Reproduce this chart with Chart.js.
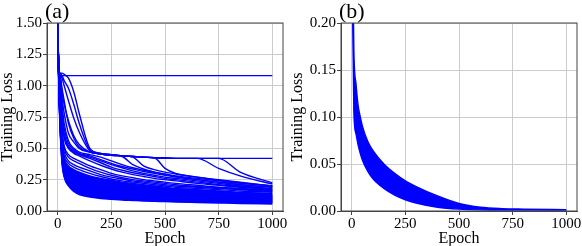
<!DOCTYPE html>
<html>
<head>
<meta charset="utf-8">
<script src="https://cdn.jsdelivr.net/npm/chart.js@4/dist/chart.umd.min.js"></script>
<style>
  body { margin: 0; background: #fff; }
  .panel { position: absolute; top: 0; }
</style>
</head>
<body>
<div class="panel" style="left:0"><canvas id="chartA" width="290" height="246"></canvas></div>
<div class="panel" style="left:290px"><canvas id="chartB" width="292" height="246"></canvas></div>
<script>
// epochs
const epochTicks = [0, 250, 500, 750, 1000];
const epochsA = [0, 5, 10, 20, 30, 50, 75, 100, 150, 200, 250, 300, 350, 400, 450, 500, 550, 650, 750, 850, 1000];

// (a) stuck runs and runs leaving the 0.42 plateau
const stuckA = [
    [1.60, 1.12, 1.09, 1.08, 1.08, 1.08, 1.08, 1.08, 1.08, 1.08, 1.08, 1.08, 1.08, 1.08, 1.08, 1.08, 1.08, 1.08, 1.08, 1.08, 1.08],
    [1.55, 1.13, 1.10, 1.10, 1.09, 1.06, 0.95, 0.78, 0.50, 0.46, 0.45, 0.44, 0.435, 0.43, 0.425, 0.42, 0.42, 0.42, 0.42, 0.42, 0.42],
    [1.50, 1.12, 1.10, 1.06, 1.00, 0.88, 0.74, 0.63, 0.48, 0.455, 0.445, 0.435, 0.37, 0.335, 0.31, 0.29, 0.275, 0.25, 0.23, 0.21, 0.19],
    [1.50, 1.12, 1.10, 1.08, 1.04, 0.98, 0.85, 0.70, 0.49, 0.46, 0.45, 0.44, 0.43, 0.36, 0.33, 0.31, 0.295, 0.27, 0.245, 0.225, 0.20],
    [1.50, 1.11, 1.08, 0.95, 0.85, 0.72, 0.60, 0.53, 0.47, 0.455, 0.445, 0.44, 0.435, 0.43, 0.425, 0.34, 0.30, 0.27, 0.25, 0.23, 0.20],
    [1.50, 1.11, 1.07, 0.90, 0.78, 0.62, 0.55, 0.50, 0.47, 0.455, 0.445, 0.44, 0.435, 0.43, 0.425, 0.425, 0.42, 0.42, 0.34, 0.28, 0.215],
    [1.50, 1.12, 1.09, 0.98, 0.88, 0.70, 0.58, 0.51, 0.47, 0.455, 0.445, 0.44, 0.435, 0.43, 0.425, 0.42, 0.42, 0.42, 0.42, 0.31, 0.225]
];

// (a) runs that fall fast, top to bottom
const fastA = [
    [1.50, 1.11, 1.05, 0.85, 0.70, 0.56, 0.50, 0.47, 0.45, 0.43, 0.40, 0.37, 0.345, 0.325, 0.31, 0.295, 0.28, 0.26, 0.24, 0.22, 0.20],
    [1.50, 1.11, 1.04, 0.80, 0.66, 0.54, 0.49, 0.46, 0.44, 0.41, 0.38, 0.355, 0.335, 0.315, 0.30, 0.285, 0.27, 0.25, 0.23, 0.21, 0.19],
    [1.50, 1.10, 1.02, 0.75, 0.62, 0.52, 0.48, 0.455, 0.43, 0.40, 0.37, 0.345, 0.32, 0.30, 0.285, 0.27, 0.26, 0.24, 0.22, 0.20, 0.18],
    [1.50, 1.10, 1.00, 0.72, 0.60, 0.51, 0.47, 0.45, 0.42, 0.385, 0.35, 0.325, 0.305, 0.29, 0.275, 0.26, 0.25, 0.23, 0.21, 0.195, 0.175],
    [1.50, 1.10, 0.98, 0.70, 0.58, 0.50, 0.46, 0.44, 0.40, 0.365, 0.335, 0.31, 0.29, 0.275, 0.26, 0.25, 0.24, 0.22, 0.205, 0.19, 0.17],
    [1.50, 1.09, 0.95, 0.65, 0.52, 0.45, 0.42, 0.40, 0.36, 0.33, 0.30, 0.28, 0.265, 0.25, 0.24, 0.23, 0.22, 0.205, 0.19, 0.18, 0.165],
    [1.50, 1.09, 0.93, 0.62, 0.50, 0.43, 0.40, 0.38, 0.34, 0.31, 0.285, 0.265, 0.25, 0.24, 0.23, 0.22, 0.21, 0.195, 0.185, 0.175, 0.16],
    [1.50, 1.08, 0.90, 0.58, 0.47, 0.40, 0.37, 0.35, 0.32, 0.29, 0.27, 0.255, 0.24, 0.23, 0.22, 0.21, 0.20, 0.19, 0.18, 0.17, 0.155],
    [1.50, 1.08, 0.88, 0.55, 0.44, 0.38, 0.35, 0.33, 0.30, 0.275, 0.255, 0.24, 0.23, 0.22, 0.21, 0.20, 0.19, 0.18, 0.17, 0.16, 0.15],
    [1.50, 1.08, 0.86, 0.52, 0.42, 0.36, 0.33, 0.31, 0.28, 0.26, 0.245, 0.23, 0.22, 0.21, 0.20, 0.19, 0.18, 0.17, 0.16, 0.15, 0.14],
    [1.50, 1.07, 0.84, 0.50, 0.40, 0.34, 0.31, 0.29, 0.265, 0.245, 0.23, 0.215, 0.205, 0.195, 0.185, 0.18, 0.175, 0.165, 0.155, 0.145, 0.135],
    [1.50, 1.07, 0.82, 0.48, 0.38, 0.32, 0.295, 0.275, 0.25, 0.23, 0.215, 0.205, 0.195, 0.185, 0.178, 0.17, 0.165, 0.155, 0.148, 0.14, 0.13],
    [1.50, 1.07, 0.80, 0.46, 0.36, 0.31, 0.28, 0.26, 0.235, 0.215, 0.20, 0.19, 0.18, 0.172, 0.165, 0.158, 0.152, 0.145, 0.138, 0.132, 0.125],
    [1.50, 1.06, 0.85, 0.55, 0.42, 0.30, 0.26, 0.24, 0.215, 0.20, 0.19, 0.18, 0.17, 0.163, 0.156, 0.15, 0.145, 0.138, 0.132, 0.126, 0.12],
    [1.50, 1.06, 0.84, 0.53, 0.41, 0.295, 0.255, 0.233, 0.208, 0.194, 0.184, 0.175, 0.166, 0.159, 0.152, 0.146, 0.141, 0.134, 0.128, 0.122, 0.116],
    [1.50, 1.05, 0.83, 0.52, 0.40, 0.288, 0.248, 0.226, 0.202, 0.188, 0.178, 0.169, 0.161, 0.154, 0.148, 0.142, 0.137, 0.130, 0.124, 0.118, 0.112],
    [1.50, 1.05, 0.82, 0.51, 0.39, 0.281, 0.241, 0.219, 0.196, 0.182, 0.172, 0.163, 0.156, 0.149, 0.143, 0.138, 0.133, 0.126, 0.120, 0.114, 0.108],
    [1.50, 1.05, 0.81, 0.50, 0.38, 0.274, 0.234, 0.212, 0.190, 0.176, 0.166, 0.158, 0.151, 0.144, 0.139, 0.134, 0.129, 0.122, 0.116, 0.110, 0.104],
    [1.50, 1.04, 0.80, 0.49, 0.37, 0.267, 0.226, 0.205, 0.183, 0.170, 0.160, 0.152, 0.145, 0.139, 0.134, 0.129, 0.124, 0.118, 0.112, 0.106, 0.100],
    [1.50, 1.04, 0.79, 0.48, 0.36, 0.260, 0.219, 0.198, 0.177, 0.164, 0.154, 0.146, 0.140, 0.134, 0.129, 0.124, 0.120, 0.114, 0.108, 0.102, 0.096],
    [1.50, 1.04, 0.78, 0.47, 0.35, 0.253, 0.212, 0.191, 0.170, 0.158, 0.148, 0.141, 0.135, 0.129, 0.124, 0.120, 0.116, 0.110, 0.104, 0.098, 0.092],
    [1.50, 1.03, 0.77, 0.46, 0.34, 0.246, 0.205, 0.184, 0.164, 0.152, 0.143, 0.136, 0.130, 0.124, 0.119, 0.115, 0.111, 0.105, 0.100, 0.094, 0.088],
    [1.50, 1.03, 0.76, 0.45, 0.33, 0.239, 0.198, 0.176, 0.157, 0.146, 0.137, 0.130, 0.124, 0.119, 0.114, 0.110, 0.107, 0.101, 0.096, 0.090, 0.084],
    [1.50, 1.03, 0.75, 0.44, 0.32, 0.232, 0.191, 0.168, 0.150, 0.139, 0.131, 0.124, 0.119, 0.114, 0.110, 0.106, 0.102, 0.097, 0.092, 0.086, 0.080],
    [1.50, 1.02, 0.74, 0.43, 0.31, 0.225, 0.184, 0.160, 0.143, 0.133, 0.125, 0.118, 0.113, 0.109, 0.105, 0.101, 0.098, 0.093, 0.088, 0.082, 0.076],
    [1.50, 1.02, 0.73, 0.42, 0.30, 0.218, 0.176, 0.152, 0.136, 0.126, 0.118, 0.112, 0.107, 0.103, 0.099, 0.096, 0.093, 0.088, 0.083, 0.078, 0.072],
    [1.50, 1.01, 0.72, 0.41, 0.29, 0.212, 0.169, 0.145, 0.128, 0.118, 0.111, 0.105, 0.101, 0.097, 0.093, 0.091, 0.088, 0.083, 0.079, 0.074, 0.068],
    [1.50, 1.01, 0.71, 0.39, 0.28, 0.206, 0.162, 0.137, 0.120, 0.109, 0.102, 0.096, 0.092, 0.088, 0.085, 0.083, 0.080, 0.076, 0.071, 0.067, 0.062],
    [1.50, 1.00, 0.70, 0.38, 0.27, 0.200, 0.155, 0.130, 0.112, 0.100, 0.094, 0.088, 0.084, 0.080, 0.077, 0.075, 0.072, 0.068, 0.064, 0.060, 0.056]
];
// the packed runs below this one read as solid blue
const denseTopA = 9;

// (b) edges of the band of runs
const epochsB = [0, 10, 20, 30, 40, 50, 75, 100, 150, 200, 250, 300, 400, 500, 600, 700, 800, 1000];
const lossBUpper = [0.35, 0.17, 0.135, 0.112, 0.10, 0.09, 0.074, 0.064, 0.05, 0.04, 0.032, 0.026, 0.016, 0.008, 0.004, 0.0025, 0.002, 0.0015];
const lossBLower = [0.30, 0.105, 0.082, 0.07, 0.061, 0.054, 0.042, 0.034, 0.024, 0.017, 0.012, 0.0085, 0.004, 0.002, 0.0012, 0.001, 0.001, 0.001];

const blue = '#0000ff';
Chart.defaults.font.family = "'Liberation Serif', 'DejaVu Serif', serif";
Chart.defaults.color = '#000';

// frame round the plot and the (a)/(b) tag
const framePlugin = {
    id: 'frame',
    afterDraw(chart, args, opts) {
        const { ctx, chartArea: a } = chart;
        ctx.save();
        ctx.strokeStyle = '#444';
        ctx.lineWidth = 1;
        ctx.strokeRect(a.left, a.top, a.right - a.left, a.bottom - a.top);
        ctx.fillStyle = '#000';
        ctx.font = "22px 'Liberation Serif'";
        ctx.textBaseline = 'alphabetic';
        ctx.fillText(opts.label, a.left - 2, a.top - 5.5);
        ctx.restore();
    }
};

function lineSet(epochs, row) {
    return {
        data: row.map((v, i) => ({ x: epochs[i], y: v })),
        borderColor: blue,
        borderWidth: 1.4,
        pointRadius: 0,
        cubicInterpolationMode: 'monotone',
        fill: false
    };
}

function makeOptions(yMax, yStep, yWidth, rightPad, label) {
    return {
        responsive: false,
        animation: false,
        layout: { padding: { top: 23, right: rightPad, left: 0, bottom: 0 } },
        plugins: { legend: { display: false }, tooltip: { enabled: false }, frame: { label: label } },
        scales: {
            x: {
                type: 'linear',
                min: -50,
                max: 1050,
                afterBuildTicks: s => { s.ticks = epochTicks.map(v => ({ value: v })); },
                afterFit: s => { s.height = 35; },
                grid: { color: '#cccccc', tickColor: '#444', tickLength: 4 },
                border: { color: '#444' },
                ticks: { font: { size: 15 }, padding: 0, maxRotation: 0, callback: v => String(v) },
                title: { display: true, text: 'Epoch', font: { size: 16 }, padding: { top: 0, bottom: -2 } }
            },
            y: {
                min: 0,
                max: yMax,
                afterFit: s => { s.width = yWidth; },
                grid: { color: '#cccccc', tickColor: '#444', tickLength: 4 },
                border: { color: '#444' },
                ticks: { stepSize: yStep, font: { size: 15 }, padding: 1, callback: v => v.toFixed(2) },
                title: { display: true, text: 'Training Loss', font: { size: 16, lineHeight: 1 }, padding: 0 }
            }
        }
    };
}

document.addEventListener('DOMContentLoaded', function() {
    const ctxA = document.getElementById('chartA').getContext('2d');
    const setsA = fastA.concat(stuckA).map(row => lineSet(epochsA, row));
    setsA[denseTopA].fill = fastA.length - 1;
    setsA[denseTopA].backgroundColor = blue;
    new Chart(ctxA, {
        type: 'line',
        data: { datasets: setsA },
        options: makeOptions(1.5, 0.25, 47, 7, '(a)'),
        plugins: [framePlugin]
    });

    const ctxB = document.getElementById('chartB').getContext('2d');
    const lower = lineSet(epochsB, lossBLower);
    const upper = lineSet(epochsB, lossBUpper);
    upper.fill = '-1';
    upper.backgroundColor = blue;
    new Chart(ctxB, {
        type: 'line',
        data: { datasets: [lower, upper] },
        options: makeOptions(0.2, 0.05, 51, 5, '(b)'),
        plugins: [framePlugin]
    });
});
</script>
</body>
</html>
